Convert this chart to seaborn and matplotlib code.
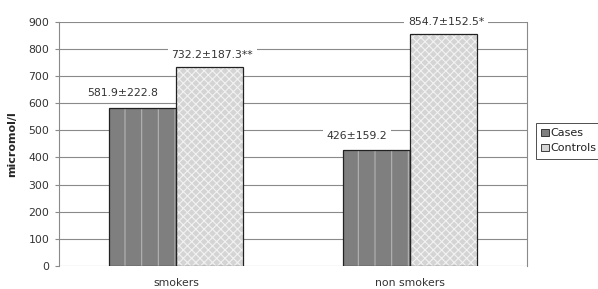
import matplotlib
matplotlib.use('Agg')
import matplotlib.pyplot as plt
import matplotlib.patches as mpatches
import seaborn as sns
import pandas as pd

# Data
groups = ['smokers', 'non smokers']
series = ['Cases', 'Controls']
cases = [581.9, 426.0]
controls = [732.2, 854.7]
case_labels = ['581.9\u00b1222.8', '426\u00b1159.2']
control_labels = ['732.2\u00b1187.3**', '854.7\u00b1152.5*']
y_ticks = list(range(0, 1000, 100))

sns.set_style('white')
plt.rcParams['font.family'] = ['DejaVu Sans']
plt.rcParams['hatch.linewidth'] = 0.8

df = pd.DataFrame({
    'group': groups * 2,
    'series': [series[0]] * 2 + [series[1]] * 2,
    'value': cases + controls,
})

fig = plt.figure(figsize=(5.98, 2.89), dpi=100)
ax = fig.add_axes([0.0987, 0.0796, 0.782, 0.845])

sns.barplot(data=df, x='group', y='value', hue='series', order=groups,
            hue_order=series, width=0.573, palette=['#7f7f7f', '#d2d2d2'],
            saturation=1, ax=ax, legend=False, zorder=3)

styles = [
    dict(face='#7f7f7f', hatch='|', hcol='#b4b4b4'),
    dict(face='#d4d4d4', hatch='xxxx', hcol='#f2f2f2'),
]
for cont, st in zip(ax.containers, styles):
    for bar in cont:
        bar.set_facecolor(st['face'])
        bar.set_edgecolor(st['hcol'])
        bar.set_hatch(st['hatch'])
        bar.set_linewidth(0)
        # black outline on top of the hatched bar
        outline = mpatches.Rectangle(bar.get_xy(), bar.get_width(), bar.get_height(),
                                     fill=False, edgecolor='#222222', linewidth=0.9,
                                     zorder=4)
        ax.add_patch(outline)

# value labels with white background (they cut the gridlines)
label_sets = [(ax.containers[0], case_labels, -14, 7), (ax.containers[1], control_labels, 2, 5)]
for cont, labels, dx, dy in label_sets:
    for bar, text in zip(cont, labels):
        ax.annotate(text, (bar.get_x() + bar.get_width() / 2, bar.get_height()),
                    xytext=(dx, dy), textcoords='offset points', ha='center',
                    va='bottom', fontsize=7.8, color='#333333', zorder=5,
                    bbox=dict(boxstyle='square,pad=0.35', fc='white', ec='none'))

ax.set_ylim(0, 900)
ax.set_xlim(-0.5, 1.5)
ax.set_yticks(y_ticks)
ax.yaxis.grid(True, color='#8a8a8a', linewidth=0.8, zorder=0)
ax.set_axisbelow(True)
ax.tick_params(axis='y', labelsize=7.8, length=3, width=0.8, color='#8a8a8a',
               left=True, pad=4, labelcolor='#333333')
ax.tick_params(axis='x', labelsize=7.8, length=0, pad=9, labelcolor='#333333')
ax.set_xlabel('')
ax.set_ylabel('micromol/l', fontsize=8, fontweight='bold', labelpad=8)

for side in ['left', 'right']:
    ax.spines[side].set_color('#8a8a8a')
    ax.spines[side].set_linewidth(0.8)
for side in ['top', 'bottom']:
    ax.spines[side].set_visible(False)

handles = [mpatches.Patch(facecolor=s['face'], edgecolor='#222222', hatch=None,
                          linewidth=0.6, label=name)
           for s, name in zip(styles, series)]
leg = fig.legend(handles=handles, loc='upper left', bbox_to_anchor=(0.896, 0.575),
                 frameon=True, fancybox=False, edgecolor='#222222', fontsize=8,
                 handlelength=0.7, handleheight=0.7, handletextpad=0.15,
                 borderpad=0.5, borderaxespad=0, labelspacing=0.45)
leg.get_frame().set_linewidth(0.7)
for t in leg.get_texts():
    t.set_color('#222222')

fig.savefig('out.png', dpi=100)
